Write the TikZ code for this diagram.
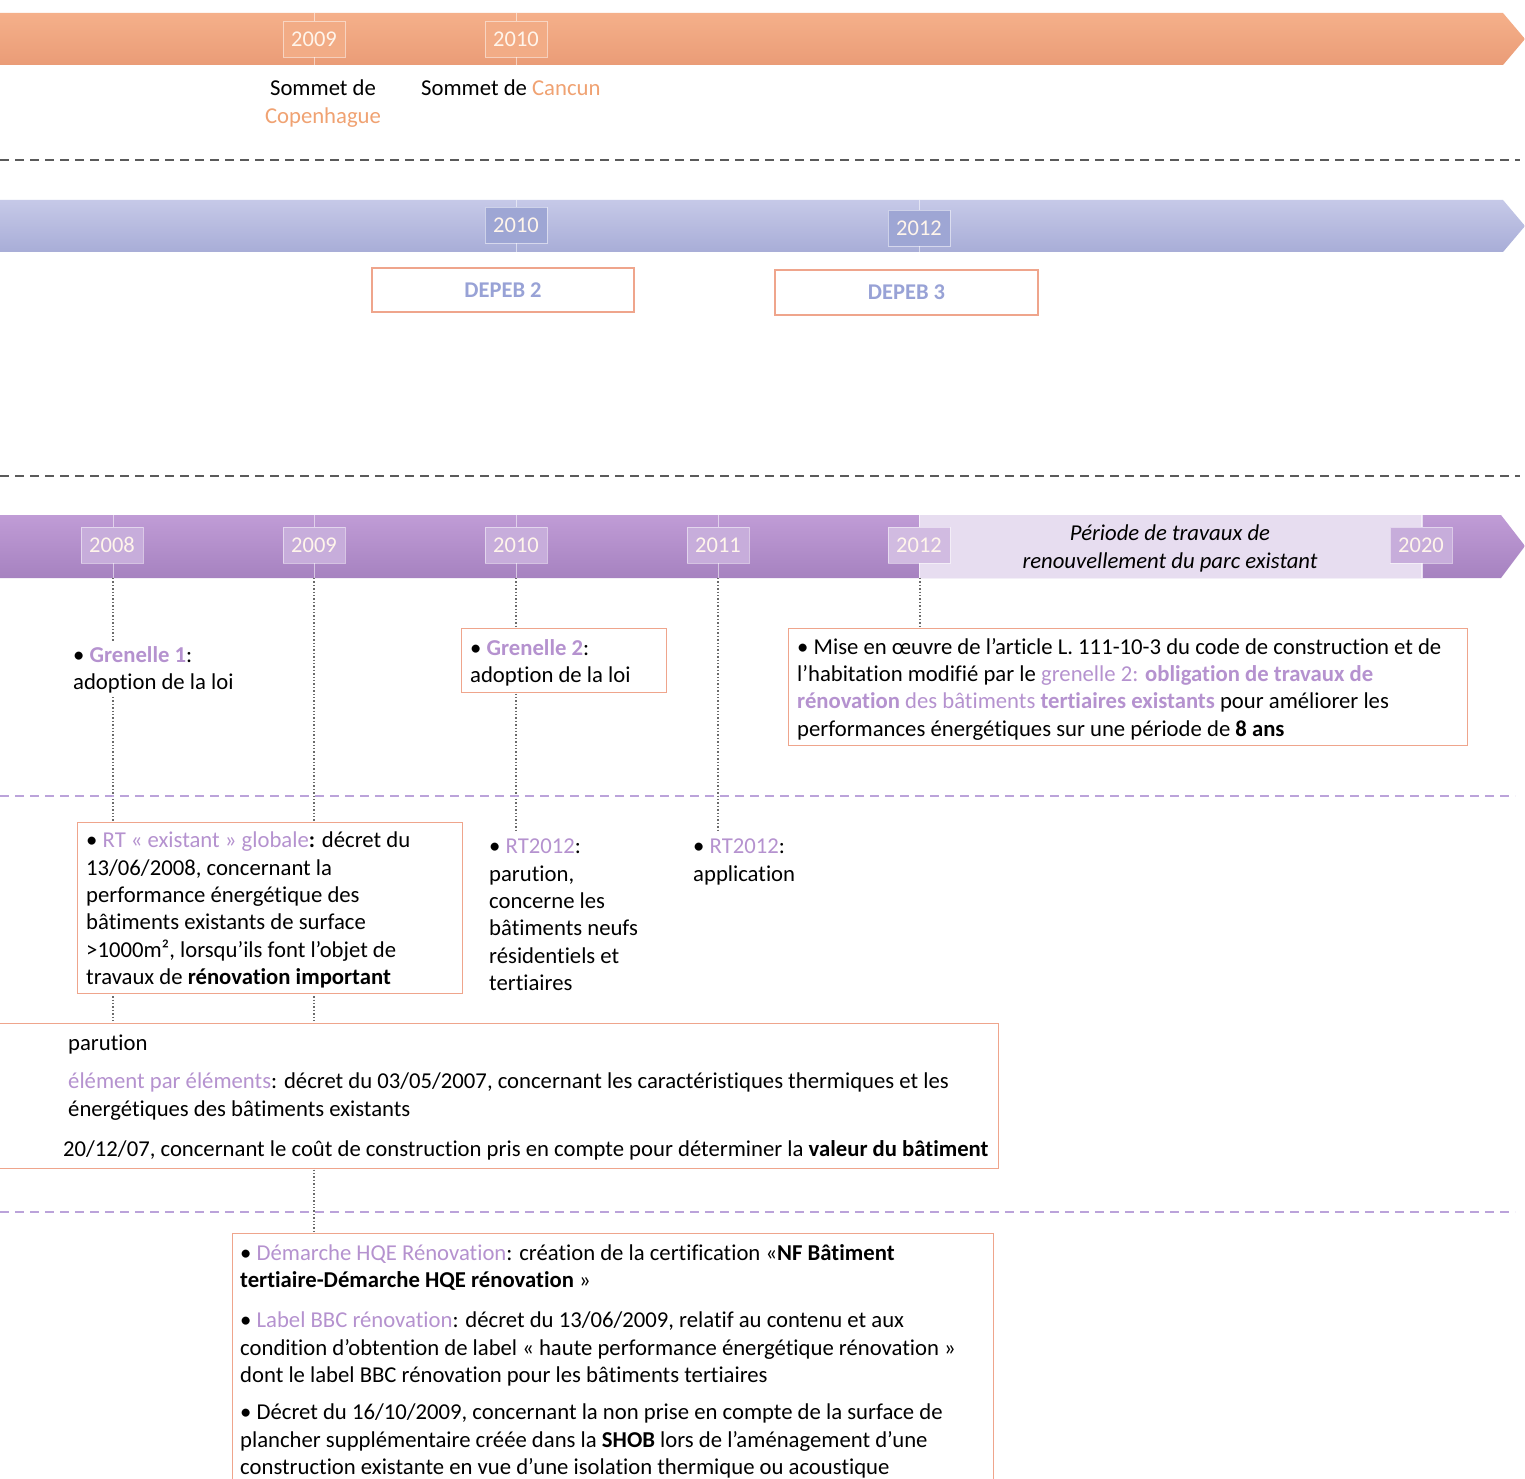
\documentclass[tikz,border=0pt]{standalone}
\usepackage{fontspec}
\setmainfont[Ligatures=NoCommon]{Carlito}
\usetikzlibrary{calc}
\definecolor{orbandT}{HTML}{F5B08A}
\definecolor{orbandB}{HTML}{EA9C77}
\definecolor{ortext}{HTML}{F0A272}
\definecolor{oryear}{HTML}{F2AC86}
\definecolor{blbandT}{HTML}{C6C9E8}
\definecolor{blbandB}{HTML}{A8ADD7}
\definecolor{blyear}{HTML}{9EA6D4}
\definecolor{depeb}{HTML}{98A2D6}
\definecolor{pubandT}{HTML}{C09CD6}
\definecolor{pubandB}{HTML}{A682C0}
\definecolor{puyear}{HTML}{C7ADDB}
\definecolor{pulight}{HTML}{E7DDF0}
\definecolor{hl}{HTML}{B592CF}
\definecolor{boxline}{HTML}{EFA58C}
\definecolor{pudash}{HTML}{BBA3DA}
\definecolor{graydash}{HTML}{5A5A5A}
\definecolor{dotc}{HTML}{6A6A6A}
\tikzset{
  txt/.style={font=\fontsize{22.7}{27.3}\selectfont, inner sep=0pt, align=left, anchor=north west, text=black},
  boxr/.style={draw=boxline, line width=1.3pt, fill=white, inner sep=0pt},
  yearbox/.style={minimum width=62, minimum height=36, inner sep=0pt, font=\fontsize{22.5}{26}\selectfont, text=white!92!orange, draw=white, draw opacity=0.5, line width=0.8pt},
  tickl/.style={draw=white, draw opacity=0.55, line width=0.8pt},
  dotl/.style={draw=dotc, line width=1.4pt, dash pattern=on 1.4pt off 2pt},
  gdash/.style={draw=graydash, line width=2pt, dash pattern=on 9pt off 6pt},
  pdash/.style={draw=pudash, line width=2pt, dash pattern=on 9pt off 6pt},
  gapwhite/.style={fill=white, inner sep=0pt},
}
\newcommand{\hlt}[1]{\textcolor{hl}{#1}}
\begin{document}
\begin{tikzpicture}[x=1pt,y=-1pt]
\useasboundingbox (0,0) rectangle (1525,1479);
\fill[white] (0,0) rectangle (1525,1479);

% ---------- orange band ----------
\shade[top color=orbandT, bottom color=orbandB] (0,13) -- (1503,13) -- (1525,39) -- (1503,65) -- (0,65) -- cycle;
\path[tickl] (314,13) -- (314,65);
\path[tickl] (516,13) -- (516,65);
\node[yearbox, fill=oryear] (o2009) at (314,39) {2009};
\node[yearbox, fill=oryear] (o2010) at (516,39) {2010};
\node[txt, anchor=north, align=center] (cop) at (323,80) {Sommet de\\\textcolor{ortext}{Copenhague}};
\node[txt] (can) at (421,80) {Sommet de \textcolor{ortext}{Cancun}};

\draw[gdash] (0,160) -- (1520,160);

% ---------- blue band ----------
\shade[top color=blbandT, bottom color=blbandB] (0,200) -- (1503,200) -- (1525,226) -- (1503,252) -- (0,252) -- cycle;
\path[tickl] (516,200) -- (516,252);
\path[tickl] (919,200) -- (919,252);
\node[yearbox, fill=blyear] (b2010) at (516,225) {2010};
\node[yearbox, fill=blyear] (b2012) at (919,228) {2012};
\node[boxr, minimum width=262, minimum height=44, font=\bfseries\fontsize{22.5}{26}\selectfont, text=depeb] (dep2) at (503,290) {DEPEB 2};
\node[boxr, minimum width=263, minimum height=45, font=\bfseries\fontsize{22.5}{26}\selectfont, text=depeb] (dep3) at (906.5,292.5) {DEPEB 3};

\draw[gdash] (0,476) -- (1520,476);

% ---------- purple band ----------
\shade[top color=pubandT, bottom color=pubandB] (0,515) -- (1501,515) -- (1525,546) -- (1501,578) -- (0,578) -- cycle;
\fill[pulight] (919,515) rectangle (1423,578);
\foreach \x in {113,314,516,718,919,1421} { \path[tickl] (\x,515) -- (\x,578); }
\node[yearbox, fill=puyear] (p2008) at (112,545) {2008};
\node[yearbox, fill=puyear] (p2009) at (314,545) {2009};
\node[yearbox, fill=puyear] (p2010) at (516,545) {2010};
\node[yearbox, fill=puyear] (p2011) at (718,545) {2011};
\node[yearbox, fill=puyear!70!pulight] (p2012) at (919,545) {2012};
\node[yearbox, fill=puyear] (p2020) at (1421,545) {2020};
\node[txt, anchor=north, align=center, font=\itshape\fontsize{22.7}{27.3}\selectfont] (per) at (1170,525) {Période de travaux de\\renouvellement du parc existant};

\coordinate (d2008) at (113,578);
\coordinate (d2009) at (314,578);
\coordinate (d2010) at (516,578);
\coordinate (d2011) at (718,578);
\coordinate (d2012) at (920,578);
\coordinate (e2010) at (516,830);
\coordinate (e2011) at (718,830);

% boxes (geometry)
\node[boxr, minimum width=205, minimum height=64, anchor=north west] (gr2) at (461,628) {};
\node[boxr, minimum width=679, minimum height=117, anchor=north west] (mise) at (788,628) {};
\node[boxr, minimum width=385, minimum height=171, anchor=north west] (rt) at (77,822) {};
\node[boxr, minimum width=1003, minimum height=145, anchor=north west] (parb) at (-5,1023) {};
\node[boxr, minimum width=761, minimum height=260, anchor=north west] (bot) at (232,1233) {};

% dotted connectors
\draw[dotl] (d2008) -- (d2008 |- parb.north);
\draw[dotl] (d2009) -- (d2009 |- bot.north);
\draw[dotl] (d2010) -- (e2010);
\draw[dotl] (d2011) -- (e2011);
\draw[dotl] (d2012) -- (d2012 |- mise.north);

\draw[pdash] (0,796) -- (1515,796);
\draw[pdash] (0,1212) -- (1515,1212);

% redraw boxes over dotted lines
\node[boxr, minimum width=205, minimum height=64, anchor=north west] at (gr2.north west) {};
\node[boxr, minimum width=679, minimum height=117, anchor=north west] at (mise.north west) {};
\node[boxr, minimum width=385, minimum height=171, anchor=north west] at (rt.north west) {};
\node[boxr, minimum width=1003, minimum height=145, anchor=north west] at (parb.north west) {};
\node[boxr, minimum width=761, minimum height=260, anchor=north west] at (bot.north west) {};

% texts
\node[txt, gapwhite, inner ysep=4pt] (g1) at (73,642) {• \textbf{\hlt{Grenelle 1}}:\\adoption de la loi};
\node[txt] (g2t) at (470,639) {• \textbf{\hlt{Grenelle 2}}:\\adoption de la loi};
\node[txt] (miset) at (797,638) {• Mise en œuvre de l’article L. 111-10-3 du code de construction et de\\l’habitation modifié par le \hlt{grenelle 2:  \textbf{obligation de travaux de}}\\\hlt{\textbf{rénovation} des bâtiments \textbf{tertiaires existants}} pour améliorer les\\performances énergétiques sur une période de \textbf{8 ans}};
\node[txt] (rtt) at (86,832) {• \hlt{RT « existant » globale}\textbf{:} décret du\\13/06/2008, concernant la\\performance énergétique des\\bâtiments existants de surface\\>1000m², lorsqu’ils font l’objet de\\travaux de \textbf{rénovation important}};
\node[txt] (rt1) at (489,839) {• \hlt{RT2012}:\\parution,\\concerne les\\bâtiments neufs\\résidentiels et\\tertiaires};
\node[txt] (rt2) at (693,839) {• \hlt{RT2012}:\\application};
\node[txt] (par1) at (68,1035) {parution};
\node[txt] (par2) at (68,1073) {\hlt{élément par éléments}: décret du 03/05/2007, concernant les caractéristiques thermiques et les\\énergétiques des bâtiments existants};
\node[txt] (par3) at (63,1140) {20/12/07, concernant le coût de construction pris en compte pour déterminer la \textbf{valeur du bâtiment}};
\node[txt] (bt1) at (240,1244) {• \hlt{Démarche HQE Rénovation}: création de la certification «\textbf{NF Bâtiment}\\\textbf{tertiaire-Démarche HQE rénovation} »};
\node[txt] (bt2) at (240,1312) {• \hlt{Label BBC rénovation}: décret du 13/06/2009, relatif au contenu et aux\\condition d’obtention de label « haute performance énergétique rénovation »\\dont le label BBC rénovation pour les bâtiments tertiaires};
\node[txt] (bt3) at (240,1404) {• Décret du 16/10/2009, concernant la non prise en compte de la surface de\\plancher supplémentaire créée dans la \textbf{SHOB} lors de l’aménagement d’une\\construction existante en vue d’une isolation thermique ou acoustique};
\end{tikzpicture}
\end{document}
